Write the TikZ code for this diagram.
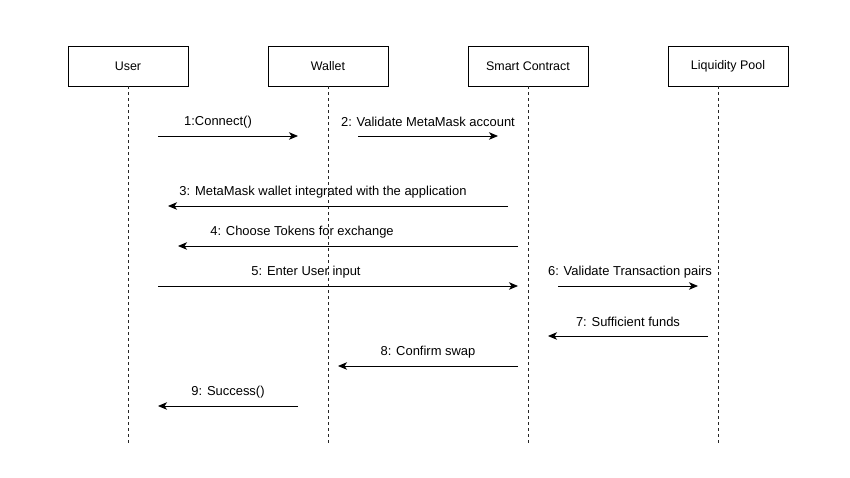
\documentclass[tikz,border=0pt]{standalone}
\usepackage{fontspec}
\setmainfont{Liberation Sans}
\usetikzlibrary{arrows.meta}
\begin{document}
\begin{tikzpicture}[x=1bp,y=-1bp,
  actor/.style={draw,line width=0.8bp,minimum width=120bp,minimum height=40bp,inner sep=0pt,font=\fontsize{12.5}{14}\selectfont},
  life/.style={draw=black!85,line width=0.8bp,dash pattern=on 3bp off 3bp},
  msg/.style={draw,line width=0.8bp,-{Stealth[length=9bp,width=7.5bp,inset=2.5bp]}},
  lbl/.style={font=\fontsize{13}{15}\selectfont,inner sep=0pt}]
\useasboundingbox[fill=white] (0,0) rectangle (850,478);
\node[actor] (user) at (128,66) {User};
\node[actor] (wallet) at (328,66) {Wallet};
\node[actor] (sc) at (528,66) {Smart Contract};
\node[actor] (lp) at (728,66) {Liquidity Pool};
\coordinate (uE) at (128,446);
\coordinate (wE) at (328,446);
\coordinate (sE) at (528,446);
\coordinate (lT) at (718,86);
\coordinate (lE) at (718,446);
\draw[life] (user.south) -- (uE);
\draw[life] (wallet.south) -- (wE);
\draw[life] (sc.south) -- (sE);
\draw[life] (lT) -- (lE);
% messages
\coordinate (a1) at (158,136); \coordinate (b1) at (298,136);
\draw[msg] (a1) -- (b1);
\node[lbl] (l1) at (218,122) {1:Connect()};
\coordinate (a2) at (358,136); \coordinate (b2) at (498,136);
\draw[msg] (a2) -- (b2);
\node[lbl] (l2) at (428,122) {2: Validate MetaMask account};
\coordinate (a3) at (508,206); \coordinate (b3) at (168,206);
\draw[msg] (a3) -- (b3);
\node[lbl] (l3) at (323,192) {3: MetaMask wallet integrated with the application};
\coordinate (a4) at (518,246); \coordinate (b4) at (178,246);
\draw[msg] (a4) -- (b4);
\node[lbl] (l4) at (302,232) {4: Choose Tokens for exchange};
\coordinate (a5) at (158,286); \coordinate (b5) at (518,286);
\draw[msg] (a5) -- (b5);
\node[lbl] (l5) at (306,272) {5: Enter User input};
\coordinate (a6) at (558,286); \coordinate (b6) at (698,286);
\draw[msg] (a6) -- (b6);
\node[lbl] (l6) at (630,272) {6: Validate Transaction pairs};
\coordinate (a7) at (708,336); \coordinate (b7) at (548,336);
\draw[msg] (a7) -- (b7);
\node[lbl] (l7) at (628,322) {7: Sufficient funds};
\coordinate (a8) at (518,366); \coordinate (b8) at (338,366);
\draw[msg] (a8) -- (b8);
\node[lbl] (l8) at (428,352) {8: Confirm swap};
\coordinate (a9) at (298,406); \coordinate (b9) at (158,406);
\draw[msg] (a9) -- (b9);
\node[lbl] (l9) at (228,392) {9: Success()};
\end{tikzpicture}
\end{document}
